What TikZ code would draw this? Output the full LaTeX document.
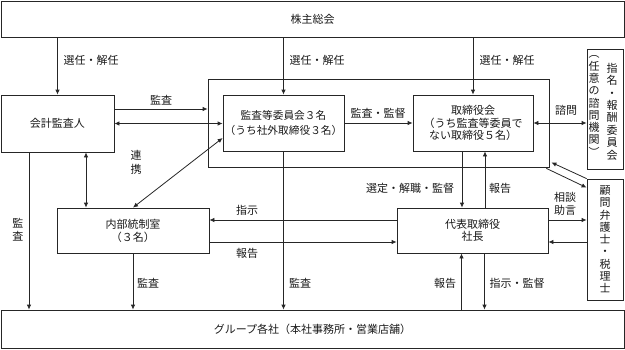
\documentclass[tikz,border=0pt]{standalone}
\usepackage{fontspec}
\setmainfont{Noto Sans CJK JP}
\usetikzlibrary{arrows.meta}
\begin{document}
\begin{tikzpicture}[x=1pt,y=-1pt,
  line width=0.8pt, draw=black!85,
  every node/.style={font=\fontsize{11}{13}\selectfont, inner sep=0pt, text=black!90},
  box/.style={draw=black!85, align=center},
  arr/.style={-{Latex[length=5pt,width=4.5pt]}},
  dbl/.style={{Latex[length=5pt,width=4.5pt]}-{Latex[length=5pt,width=4.5pt]}},
  vt/.style={align=center, font=\fontsize{11}{12.3}\selectfont}]
\useasboundingbox (0,0) rectangle (625,349);

% boxes
\node[box, minimum width=623pt, minimum height=36pt] (sh) at (312.5,19) {株主総会};
\node[box, minimum width=341pt, minimum height=88pt] (frame) at (378.5,123) {};
\node[box, minimum width=113pt, minimum height=57pt] (kaikei) at (57.5,123.5) {会計監査人};
\node[box, minimum width=121pt, minimum height=56pt, font=\fontsize{10.7}{15}\selectfont] (kansa) at (283.5,123) {監査等委員会３名\\（うち社外取締役３名）};
\node[box, minimum width=120pt, minimum height=56pt, font=\fontsize{11}{12.2}\selectfont] (tori) at (473,123) {取締役会\\（うち監査等委員で\\ない取締役５名）};
\node[box, minimum width=36pt, minimum height=120pt] (shimei) at (605,109) {};
\node[vt, font=\fontsize{11}{12.4}\selectfont] (shimeiA) at (612,111.5) {指\\名\\・\\報\\酬\\委\\員\\会};
\node[vt, font=\fontsize{11}{12.3}\selectfont] (shimeiB) at (594,106) {︵\\任\\意\\の\\諮\\問\\機\\関\\︶};
\node[box, minimum width=36pt, minimum height=121pt, font=\fontsize{11}{12.25}\selectfont] (komon) at (605,239.5) {顧\\問\\弁\\護\\士\\・\\税\\理\\士};
\node[box, minimum width=152pt, minimum height=45pt] (naibu) at (133,230.5) {内部統制室\\（３名）};
\node[box, minimum width=151pt, minimum height=45pt, font=\fontsize{11}{12.5}\selectfont] (daihyo) at (472.5,230.5) {代表取締役\\社長};
\node[box, minimum width=623pt, minimum height=38pt] (group) at (312.5,329) {グループ各社（本社事務所・営業店舗）};

% connectors from shareholders
\draw[arr] (sh.south -| kaikei.north) -- (kaikei.north);
\draw[arr] (sh.south -| kansa.north) -- (kansa.north);
\draw[arr] (sh.south -| tori.north) -- (tori.north);

% accounting auditor
\draw[arr] ([yshift=14.5pt]kaikei.east) -- ([yshift=14.5pt]kaikei.east -| frame.west);
\draw[dbl] (kaikei.east) -- (kaikei.east -| kansa.west);
\draw[dbl] ([xshift=28.5pt]kaikei.south) -- ([xshift=28.5pt]kaikei.south |- naibu.north);
\draw[arr] ([xshift=-28.5pt]kaikei.south) -- ([xshift=-28.5pt]kaikei.south |- group.north);

% internal control
\draw[dbl] (naibu.north) -- ([yshift=-15pt]kansa.west);
\draw[arr] (naibu.south) -- (naibu.south |- group.north);
\draw[arr] (kansa.south) -- (kansa.south |- group.north);

% board
\draw[arr] (kansa.east) -- (kansa.east -| tori.west);
\draw[dbl] (tori.east) -- (tori.east -| shimei.west);
\draw[arr] ([xshift=-11pt]tori.south) -- ([xshift=-11pt]tori.south |- daihyo.north);
\draw[arr] ([xshift=12pt]tori.south |- daihyo.north) -- ([xshift=12pt]tori.south);

% president
\draw[arr] ([yshift=10.5pt]daihyo.west) -- ([yshift=10.5pt]daihyo.west -| naibu.east);
\draw[arr] ([yshift=-11.5pt]naibu.east) -- ([yshift=-11.5pt]naibu.east -| daihyo.west);
\draw[arr] ([yshift=10.5pt]daihyo.east) -- ([yshift=10.5pt]daihyo.east -| komon.west);
\draw[arr] ([yshift=-11.5pt]daihyo.east -| komon.west) -- ([yshift=-11.5pt]daihyo.east);
\draw[arr] ([xshift=12pt]daihyo.south) -- ([xshift=12pt]daihyo.south |- group.north);
\draw[arr] ([xshift=-11pt]daihyo.south |- group.north) -- ([xshift=-11pt]daihyo.south);

% advisers to frame
\draw[arr] (komon.north west) -- ([xshift=2pt,yshift=5pt]frame.south east);
\draw[arr] ([xshift=-3pt,yshift=-1pt]frame.south east) -- ([yshift=-9pt]komon.north west);

% labels
\node (l1) at (91,60) {選任・解任};
\node (l2) at (317,60) {選任・解任};
\node (l3) at (507,60) {選任・解任};
\node (l4) at (161,100) {監査};
\node[vt, font=\fontsize{11}{14}\selectfont] (l5) at (136,162) {連\\携};
\node[vt, font=\fontsize{11}{13}\selectfont] (l6) at (18,229.5) {監\\査};
\node (l7) at (148,283) {監査};
\node (l8) at (300,283) {監査};
\node (l9) at (378,113) {監査・監督};
\node (l10) at (566,110) {諮問};
\node (l11) at (410,188) {選定・解職・監督};
\node (l12) at (500,188) {報告};
\node (l13) at (247,210) {指示};
\node (l14) at (247,253) {報告};
\node[align=center, font=\fontsize{11}{13}\selectfont] (l15) at (565,204) {相談\\助言};
\node (l16) at (445,283) {報告};
\node (l17) at (517,283) {指示・監督};
\end{tikzpicture}
\end{document}
